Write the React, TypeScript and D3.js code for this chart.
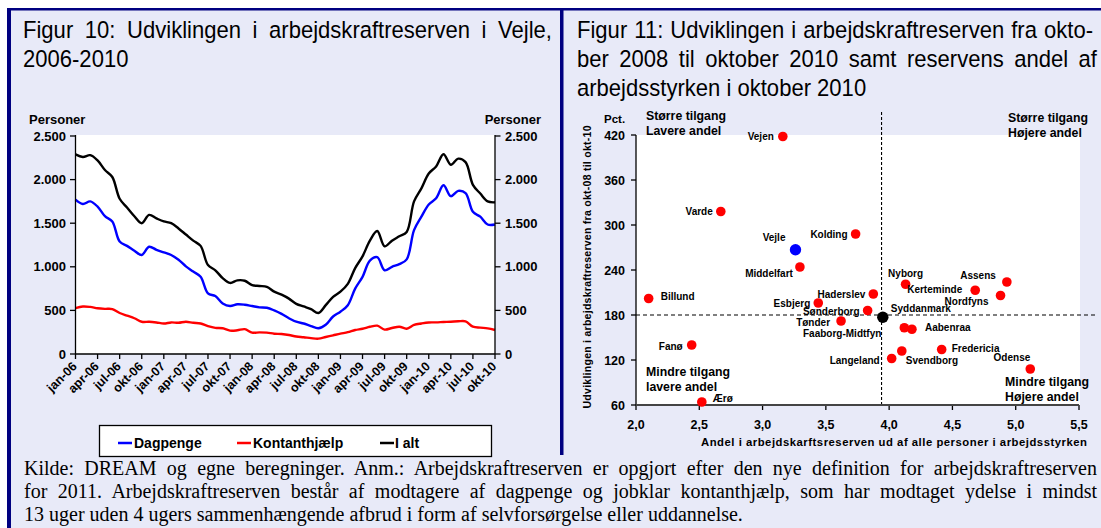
import React, { useLayoutEffect, useRef, useState } from "react";
import * as d3 from "d3";

// ---------- Figur 10 data (monthly, jan-06 .. okt-10) ----------
const quarterLabels = [
  "jan-06", "apr-06", "jul-06", "okt-06", "jan-07", "apr-07", "jul-07", "okt-07",
  "jan-08", "apr-08", "jul-08", "okt-08", "jan-09", "apr-09", "jul-09", "okt-09",
  "jan-10", "apr-10", "jul-10", "okt-10",
];
const dagpenge = [
  1770, 1720, 1750, 1690, 1580, 1520, 1290, 1240, 1185, 1135, 1230, 1195, 1165, 1135, 1080, 1005,
  945, 885, 695, 665, 580, 550, 570, 565, 550, 535, 530, 500, 460, 410, 370, 350,
  320, 295, 335, 430, 485, 560, 750, 885, 1070, 1110, 960, 1000, 1030, 1085, 1420, 1575,
  1715, 1785, 1935, 1810, 1870, 1845, 1630, 1575, 1485, 1485,
];
const kontanthjaelp = [
  525, 545, 540, 525, 518, 515, 470, 440, 410, 370, 370, 362, 350, 362, 358, 370,
  358, 350, 320, 300, 295, 268, 272, 285, 245, 248, 245, 233, 229, 218, 200, 192,
  182, 176, 195, 214, 233, 250, 275, 290, 312, 325, 280, 298, 313, 290, 333, 350,
  362, 363, 367, 370, 375, 375, 313, 302, 294, 275,
];
const iAlt = [
  2290, 2260, 2280, 2220, 2110, 2030, 1780, 1680, 1580, 1500, 1595, 1555, 1520, 1500, 1440, 1370,
  1300, 1240, 1020, 960, 870, 815, 845, 840, 790, 780, 770, 715, 680, 635, 575, 545,
  515, 470, 560, 655, 715, 805, 985, 1120, 1300, 1410, 1235, 1300, 1350, 1400, 1750, 1900,
  2070, 2150, 2290, 2170, 2240, 2200, 1940, 1840, 1750, 1740,
];
const personerTicks = [0, 500, 1000, 1500, 2000, 2500];
const seriesNames = ["Dagpenge", "Kontanthjælp", "I alt"];

// ---------- Figur 11 data ----------
const kommuner = [
  "Vejen", "Varde", "Vejle", "Kolding", "Middelfart", "Billund", "Esbjerg", "Haderslev",
  "Sønderborg", "Tønder", "Syddanmark", "Nyborg", "Kerteminde", "Assens", "Nordfyns",
  "Faaborg-Midtfyn", "Aabenraa", "Langeland", "Svendborg", "Fredericia", "Odense", "Fanø", "Ærø",
];
const andel = [
  3.16, 2.67, 3.26, 3.735, 3.295, 2.1, 3.44, 3.875,
  3.83, 3.62, 3.95, 4.13, 4.68, 4.93, 4.88,
  4.12, 4.18, 4.02, 4.1, 4.415, 5.115, 2.44, 2.52,
];
const udvikling = [
  418, 318, 267, 288, 244, 202, 196, 208,
  186, 172, 177, 221, 213, 224, 206,
  163, 161, 122, 132, 134, 108, 140, 64,
];
const pctTicks = [60, 120, 180, 240, 300, 360, 420];
const andelTicks = [2.0, 2.5, 3.0, 3.5, 4.0, 4.5, 5.0, 5.5];
const refAndel = 3.94;
const refUdvikling = 180;

// ---------- layout (not data) ----------
const labelPlacement: Record<string, [number, number, string]> = {
  Vejen: [-9, 3.5, "end"],
  Varde: [-8, 3.5, "end"],
  Vejle: [-10, -8.5, "end"],
  Kolding: [-8, 3.5, "end"],
  Middelfart: [-7, 9.5, "end"],
  Billund: [12, 1.5, "start"],
  Esbjerg: [-8, 3.5, "end"],
  Haderslev: [-8, 3.5, "end"],
  "Sønderborg": [-8, 4.5, "end"],
  "Tønder": [-11, 4.5, "end"],
  Syddanmark: [8, -5.5, "start"],
  Nyborg: [0, -7.5, "middle"],
  Kerteminde: [-13, 2.5, "end"],
  Assens: [-11, -3.5, "end"],
  Nordfyns: [-12, 9.5, "end"],
  "Faaborg-Midtfyn": [-23, 9.5, "end"],
  Aabenraa: [13, 1.5, "start"],
  Langeland: [-12, 5.5, "end"],
  Svendborg: [4, 12.5, "start"],
  Fredericia: [10, 2.5, "start"],
  Odense: [0, -8.5, "end"],
  "Fanø": [-9, 4.5, "end"],
  "Ærø": [11, -0.5, "start"],
};

const BG = "#E8EAF8";
const NAVY = "#000080";
const ARIAL = "'Liberation Sans', Arial, sans-serif";
const SERIF = "'Liberation Serif', 'Times New Roman', serif";

// text that is horizontally scaled (sx) and justified to `width` by word spacing
function JText(props: {
  x: number; y: number; text: string; width?: number; size: number; family: string; sx: number;
}) {
  const { x, y, text, width, size, family, sx } = props;
  const ref = useRef<SVGTextElement>(null);
  const [ws, setWs] = useState(0);
  useLayoutEffect(() => {
    const el = ref.current;
    if (!el || !width) return;
    const natural = el.getComputedTextLength();
    const spaces = (text.match(/ /g) || []).length;
    if (spaces > 0) setWs((width / sx - natural) / spaces);
  }, [text, width, sx, size]);
  return (
    <text
      ref={ref}
      transform={`translate(${x},${y}) scale(${sx},1)`}
      fontFamily={family}
      fontSize={size}
      fill="#000"
      style={{ wordSpacing: `${ws}px` }}
    >
      {text}
    </text>
  );
}

export default function App() {
  // Figur 10 scales
  const xL = d3.scaleLinear().domain([0, dagpenge.length - 1]).range([75.5, 495]);
  const yL = d3.scaleLinear().domain([0, 2500]).range([354, 136]);
  const line = d3
    .line<number>()
    .x((_, i) => xL(i))
    .y((d) => yL(d))
    .curve(d3.curveCatmullRom.alpha(0.5));
  const series = [
    { name: seriesNames[0], values: dagpenge, color: "#0000FF" },
    { name: seriesNames[1], values: kontanthjaelp, color: "#FF0000" },
    { name: seriesNames[2], values: iAlt, color: "#000000" },
  ];
  const quarterIdx = quarterLabels.map((_, k) => k * 3);

  // Figur 11 scales
  const xR = d3.scaleLinear().domain([2, 5.5]).range([636, 1079]);
  const yR = d3.scaleLinear().domain([60, 420]).range([405, 135]);

  const legendItems = [
    { x: 118, tx: 134 },
    { x: 237, tx: 253 },
    { x: 380, tx: 395 },
  ];
  const fmtThousands = (t: number) => d3.format(",")(t).replace(/,/g, ".");

  return (
    <svg
      width={1101}
      height={528}
      style={{ position: "absolute", left: 0, top: 0, background: "#fff" }}
    >
      {/* background & frame */}
      <rect x={7} y={8} width={1094} height={520} fill={BG} />
      <rect x={7} y={8} width={1094} height={2.5} fill={NAVY} />
      <rect x={7} y={8} width={4} height={520} fill={NAVY} />
      <rect x={560} y={8} width={3.5} height={447} fill={NAVY} />

      {/* titles */}
      <JText x={23} y={38} text="Figur 10: Udviklingen i arbejdskraftreserven i Vejle," width={529} size={24.5} family={ARIAL} sx={0.9} />
      <JText x={23} y={67} text="2006-2010" size={24.5} family={ARIAL} sx={0.9} />
      <JText x={577} y={38} text="Figur 11: Udviklingen i arbejdskraftreserven fra okto-" width={516} size={24.5} family={ARIAL} sx={0.9} />
      <JText x={577} y={67} text="ber 2008 til oktober 2010 samt reservens andel af" width={520} size={24.5} family={ARIAL} sx={0.9} />
      <JText x={577} y={96} text="arbejdsstyrken i oktober 2010" size={24.5} family={ARIAL} sx={0.9} />

      {/* ---------- Figur 10 ---------- */}
      <rect x={75.5} y={135} width={419.5} height={219} fill="#fff" />
      <g fontFamily={ARIAL} fontWeight="bold" fontSize={13} fill="#000">
        <text x={29} y={124}>Personer</text>
        <text x={541} y={124} textAnchor="end">Personer</text>
        {personerTicks.map((t) => (
          <g key={t}>
            <line x1={70} x2={75.5} y1={yL(t)} y2={yL(t)} stroke="#000" strokeWidth={1.3} />
            <line x1={495} x2={500.5} y1={yL(t)} y2={yL(t)} stroke="#000" strokeWidth={1.3} />
            <text x={66} y={yL(t) + 4.5} textAnchor="end">{fmtThousands(t)}</text>
            <text x={505} y={yL(t) + 4.5}>{fmtThousands(t)}</text>
          </g>
        ))}
        {quarterIdx.map((qi, k) => (
          <g key={k}>
            <line x1={xL(qi)} x2={xL(qi)} y1={354} y2={359} stroke="#000" strokeWidth={1.3} />
            <text
              transform={`translate(${xL(qi) - 1},${364}) rotate(-45)`}
              textAnchor="end"
              dy="0.35em"
              fontSize={12.5}
            >
              {quarterLabels[k]}
            </text>
          </g>
        ))}
      </g>
      {series.map((s) => (
        <path key={s.name} d={line(s.values) || ""} fill="none" stroke={s.color} strokeWidth={2.4} strokeLinejoin="round" />
      ))}
      <line x1={75.5} x2={75.5} y1={135} y2={354} stroke="#000" strokeWidth={1.3} />
      <line x1={495} x2={495} y1={135} y2={354} stroke="#000" strokeWidth={1.3} />
      <line x1={75.5} x2={495} y1={354} y2={354} stroke="#000" strokeWidth={1.3} />

      {/* legend */}
      <rect x={99.5} y={425.5} width={392} height={31} fill="#fff" stroke="#000" strokeWidth={1.3} />
      {series.map((s, i) => (
        <g key={s.name}>
          <line x1={legendItems[i].x} x2={legendItems[i].x + 14} y1={443} y2={443} stroke={s.color} strokeWidth={2.5} />
          <text x={legendItems[i].tx} y={448} fontFamily={ARIAL} fontWeight="bold" fontSize={14}>
            {s.name}
          </text>
        </g>
      ))}

      {/* ---------- Figur 11 ---------- */}
      <rect x={636} y={135} width={444} height={270} fill="#fff" />
      <g fontFamily={ARIAL} fontWeight="bold" fill="#000">
        <text x={604} y={123} fontSize={11.5}>Pct.</text>
        <text x={646} y={119.5} fontSize={12.3}>Større tilgang</text>
        <text x={646} y={135} fontSize={12.3}>Lavere andel</text>
        <text x={1008} y={121.5} fontSize={12.3}>Større tilgang</text>
        <text x={1008} y={137} fontSize={12.3}>Højere andel</text>
        <text x={646} y={376} fontSize={12.3}>Mindre tilgang</text>
        <text x={646} y={391} fontSize={12.3}>lavere andel</text>
        <text x={1005} y={385.5} fontSize={12.3}>Mindre tilgang</text>
        <text x={1005} y={400.5} fontSize={12.3}>Højere andel</text>
        {pctTicks.map((t) => (
          <g key={t}>
            <line x1={631} x2={636} y1={yR(t)} y2={yR(t)} stroke="#000" strokeWidth={1.3} />
            <text x={625} y={yR(t) + 4.5} textAnchor="end" fontSize={12.5}>{t}</text>
          </g>
        ))}
        {andelTicks.map((t) => (
          <g key={t}>
            <line x1={xR(t)} x2={xR(t)} y1={405} y2={410} stroke="#000" strokeWidth={1.3} />
            <text x={xR(t)} y={428.5} textAnchor="middle" fontSize={12.5}>
              {d3.format(".1f")(t).replace(".", ",")}
            </text>
          </g>
        ))}
        <text x={701} y={446} fontSize={11.3} textLength={386} lengthAdjust="spacing">
          Andel i arbejdskarftsreserven ud af alle personer i arbejdsstyrken
        </text>
        <text
          transform="translate(591,267) rotate(-90)"
          textAnchor="middle"
          fontSize={10.5}
          textLength={283}
          lengthAdjust="spacing"
        >
          Udviklingen i arbejdskraftreserven fra okt-08 til okt-10
        </text>
      </g>
      <line x1={xR(refAndel)} x2={xR(refAndel)} y1={112} y2={405} stroke="#000" strokeWidth={1.1} strokeDasharray="3,2" />
      <line x1={636} x2={1095} y1={yR(refUdvikling)} y2={yR(refUdvikling)} stroke="#000" strokeWidth={1.1} strokeDasharray="4,3" />
      <line x1={636} x2={636} y1={135} y2={405} stroke="#000" strokeWidth={1.3} />
      <line x1={636} x2={1079} y1={405} y2={405} stroke="#444" strokeWidth={2} />
      {kommuner.map((k, i) => {
        const isVejle = k === "Vejle";
        const isDk = k === "Syddanmark";
        const color = isVejle ? "#0000FF" : isDk ? "#000000" : "#FF0000";
        const r = isVejle || isDk ? 5.7 : 4.8;
        const [dx, dy, anchor] = labelPlacement[k];
        const cx = xR(andel[i]);
        const cy = yR(udvikling[i]);
        return (
          <g key={k}>
            <circle cx={cx} cy={cy} r={r} fill={color} />
            <text
              x={cx + dx}
              y={cy + dy}
              textAnchor={anchor}
              fontFamily={ARIAL}
              fontWeight="bold"
              fontSize={10}
              fill="#000"
            >
              {k}
            </text>
          </g>
        );
      })}

      {/* caption */}
      <JText x={24} y={475} size={20} family={SERIF} sx={1} width={1073}
        text="Kilde: DREAM og egne beregninger. Anm.: Arbejdskraftreserven er opgjort efter den nye definition for arbejdskraftreserven" />
      <JText x={24} y={498} size={20} family={SERIF} sx={1} width={1073}
        text="for 2011. Arbejdskraftreserven består af modtagere af dagpenge og jobklar kontanthjælp, som har modtaget ydelse i mindst" />
      <JText x={24} y={521} size={20} family={SERIF} sx={1}
        text="13 uger uden 4 ugers sammenhængende afbrud i form af selvforsørgelse eller uddannelse." />
    </svg>
  );
}
